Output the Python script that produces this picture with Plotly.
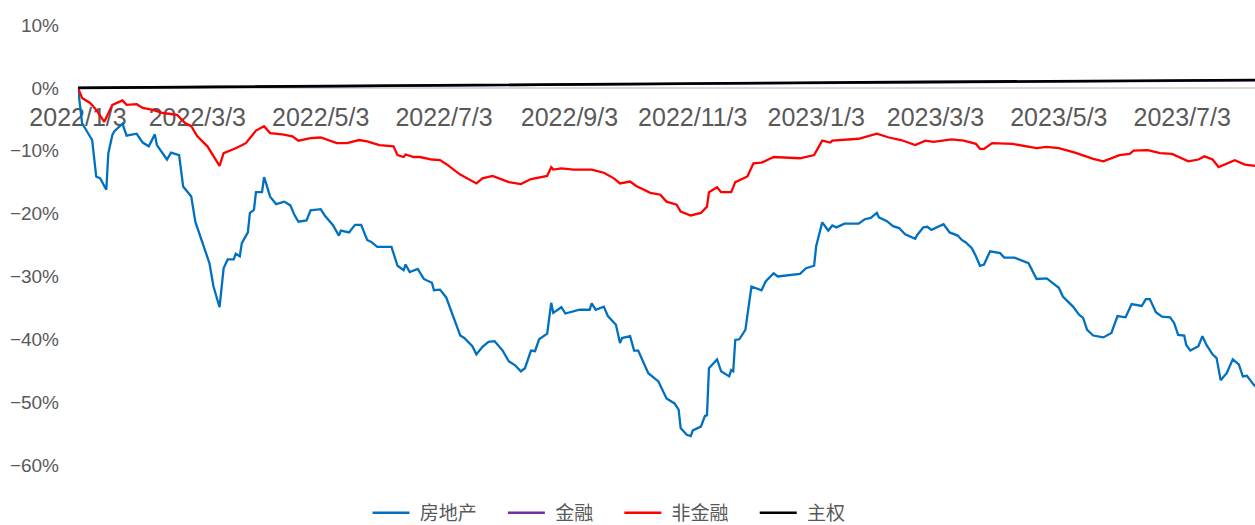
import pandas as pd
import plotly.graph_objects as go

START = pd.Timestamp("2022-01-03")

# 房地产 (real estate) — days since 2022-01-03, cumulative return %
fdc_day = [0, 2, 4, 7, 9, 11, 14, 15, 17, 18, 22, 24, 29, 32, 35, 38, 39, 41, 44, 46, 50, 52, 56, 58,
           62, 65, 67, 70, 72, 74, 77, 78, 80, 81, 84, 85, 87, 88, 91, 92, 93, 95, 98, 102, 105, 107,
           109, 113, 115, 120, 122, 126, 129, 130, 134, 137, 140, 143, 145, 148, 155, 158, 161, 162,
           164, 168, 171, 175, 176, 179, 182, 185, 189, 191, 195, 197, 200, 203, 206, 210, 213, 216,
           219, 221, 224, 226, 228, 232, 234, 235, 239, 241, 248, 253, 254, 256, 260, 262, 266, 268,
           269, 273, 275, 277, 282, 287, 291, 295, 297, 298, 301, 303, 304, 308, 310, 311, 312, 316,
           318, 322, 323, 324, 325, 327, 330, 333, 338, 340, 344, 346, 357, 360, 364, 365, 368, 371,
           373, 375, 379, 386, 389, 392, 395, 396, 400, 403, 406, 409, 414, 415, 418, 420, 422, 428,
           431, 435, 437, 439, 442, 444, 446, 448, 451, 456, 458, 463, 470, 474, 477, 479, 485, 487,
           492, 495, 497, 499, 502, 507, 511, 514, 518, 521, 526, 528, 530, 533, 536, 540, 542, 544,
           547, 548, 550, 554, 556, 558, 561, 563, 565, 568, 571, 574, 576, 578, 582]
fdc_val = [0.0, -5.6, -6.7, -8.3, -14.1, -14.4, -16.2, -10.4, -7.5, -6.9, -5.7, -7.6, -7.3, -8.7, -9.3,
           -7.4, -9.1, -10.1, -11.4, -10.3, -10.7, -15.7, -17.3, -21.3, -25.2, -27.9, -31.6, -34.9,
           -28.7, -27.3, -27.3, -26.4, -26.8, -24.7, -23.0, -19.9, -19.4, -16.6, -16.6, -14.2, -15.2,
           -17.3, -18.5, -18.1, -18.7, -20.2, -21.3, -21.1, -19.5, -19.3, -20.3, -21.8, -23.5, -22.7,
           -23.0, -21.8, -21.8, -24.2, -24.5, -25.3, -25.3, -28.3, -29.0, -28.1, -29.3, -28.8, -30.4,
           -31.0, -32.2, -32.1, -33.3, -35.8, -39.4, -39.8, -41.1, -42.4, -41.2, -40.4, -40.3, -41.8,
           -43.5, -44.1, -45.1, -44.6, -41.8, -41.9, -40.0, -39.1, -34.2, -35.8, -34.9, -35.9, -35.3,
           -35.3, -34.3, -35.3, -34.8, -36.3, -37.7, -40.6, -39.8, -39.5, -41.8, -41.8, -45.4, -46.7,
           -49.4, -50.2, -51.2, -54.1, -55.2, -55.4, -54.5, -53.9, -52.2, -52.1, -44.6, -43.2, -45.1,
           -45.9, -44.9, -45.1, -40.1, -40.0, -38.5, -31.6, -32.2, -30.8, -29.5, -30.0, -29.6, -28.7,
           -28.3, -25.2, -21.4, -22.7, -21.9, -22.2, -21.6, -21.6, -20.9, -20.7, -19.9, -20.6, -21.2,
           -22.0, -22.3, -23.3, -24.0, -23.4, -22.2, -22.1, -22.6, -21.7, -23.0, -23.5, -24.2, -24.6,
           -25.5, -26.8, -28.3, -28.1, -26.0, -26.3, -27.0, -27.0, -27.9, -30.4, -30.4, -30.3, -31.8,
           -33.2, -34.8, -36.1, -36.6, -38.5, -39.4, -39.7, -39.0, -36.3, -36.5, -34.4, -34.7, -33.6,
           -33.6, -35.7, -36.4, -36.5, -37.4, -39.3, -39.4, -40.9, -41.8, -41.1, -39.5, -40.9, -42.4,
           -43.0, -46.5, -45.4, -43.2, -44.0, -45.9, -45.8, -47.5]

# 非金融 (non-financial)
ffin_day = [0, 2, 6, 9, 13, 17, 22, 24, 29, 32, 37, 42, 49, 53, 56, 59, 64, 70, 72, 75, 78, 83, 86, 88,
            92, 95, 101, 106, 109, 115, 120, 128, 133, 139, 143, 149, 156, 158, 161, 162, 166, 169,
            175, 179, 182, 189, 197, 200, 205, 213, 219, 224, 232, 234, 235, 239, 245, 254, 260, 265,
            268, 273, 276, 283, 288, 291, 296, 298, 303, 308, 311, 312, 316, 318, 323, 325, 331, 334,
            338, 344, 357, 364, 368, 372, 373, 380, 386, 395, 401, 407, 414, 419, 423, 432, 438, 444,
            446, 448, 452, 462, 467, 474, 479, 485, 493, 502, 507, 515, 520, 522, 529, 535, 541, 549,
            554, 557, 561, 564, 572, 577, 582]
ffin_val = [0.0, -1.6, -2.4, -3.5, -5.4, -2.7, -2.0, -2.7, -2.6, -3.2, -3.5, -4.0, -4.3, -5.6, -6.1,
            -7.7, -9.3, -12.4, -10.4, -10.0, -9.6, -8.8, -7.5, -6.8, -6.1, -7.2, -7.4, -7.7, -8.4,
            -8.0, -7.9, -8.8, -8.8, -8.3, -8.5, -9.1, -9.3, -10.7, -11.0, -10.6, -11.0, -11.0, -11.4,
            -11.5, -12.1, -13.8, -15.2, -14.4, -14.0, -15.0, -15.3, -14.5, -14.0, -12.6, -13.0, -12.8,
            -13.0, -13.0, -13.5, -14.4, -15.2, -14.9, -15.6, -16.7, -17.0, -18.1, -18.6, -19.7, -20.3,
            -19.9, -18.9, -16.6, -15.8, -16.6, -16.6, -15.0, -14.1, -12.0, -11.9, -11.0, -11.2, -10.7,
            -8.4, -8.7, -8.4, -8.2, -8.1, -7.3, -7.9, -8.3, -9.1, -8.4, -8.6, -8.2, -8.4, -8.9, -9.7,
            -9.7, -8.8, -8.9, -9.2, -9.6, -9.4, -9.6, -10.3, -11.3, -11.7, -10.7, -10.5, -10.0, -9.9,
            -10.4, -10.5, -11.7, -11.4, -10.9, -11.4, -12.6, -11.5, -12.2, -12.4]

# 主权 (sovereign) and 金融 (financial)
zq_day = [0, 60, 120, 180, 240, 300, 360, 420, 480, 540, 582]
zq_val = [0.0, 0.15, 0.30, 0.40, 0.50, 0.65, 0.80, 0.95, 1.05, 1.15, 1.25]
jr_day = [0, 60, 120, 180, 240, 300, 360, 420, 480, 540, 582]
jr_val = [0.0, 0.12, 0.26, 0.36, 0.46, 0.60, 0.75, 0.90, 1.00, 1.10, 1.20]

x_tick_dates = ["2022-01-03", "2022-03-03", "2022-05-03", "2022-07-03", "2022-09-03", "2022-11-03",
                "2023-01-03", "2023-03-03", "2023-05-03", "2023-07-03"]
x_tick_text = ["2022/1/3", "2022/3/3", "2022/5/3", "2022/7/3", "2022/9/3", "2022/11/3",
               "2023/1/3", "2023/3/3", "2023/5/3", "2023/7/3"]
y_tick_vals = [10, 0, -10, -20, -30, -40, -50, -60]
y_tick_text = ["10%", "0%", "−10%", "−20%", "−30%", "−40%", "−50%", "−60%"]


def to_dates(days):
    return START + pd.to_timedelta(days, unit="D")


NB = "\u00a0"
series = [
    ("房地产", fdc_day, fdc_val, "#0070C0", 2.3),
    ("金融", jr_day, jr_val, "#7030A0", 2.3),
    ("非金融", ffin_day, ffin_val, "#FF0000", 2.3),
    ("主权", zq_day, zq_val, "#000000", 2.6),
]

fig = go.Figure()
for name, d, v, c, w in series:
    fig.add_trace(go.Scatter(x=to_dates(d), y=v, name=NB + name + NB * 4, mode="lines",
                             line=dict(color=c, width=w)))

y_min, y_max = -60, 10
zero_pos = (0 - y_min) / (y_max - y_min)

fig.update_layout(
    width=1255, height=525,
    margin=dict(l=78, r=0, t=25, b=60, autoexpand=False),
    paper_bgcolor="white", plot_bgcolor="white",
    font=dict(family="Liberation Sans, Noto Sans CJK SC", color="#595959"),
    showlegend=True,
    legend=dict(orientation="h", x=0.5 - 8 / 1255, xanchor="center", xref="container",
                y=0.023, yanchor="middle", yref="container",
                font=dict(size=19, family="Liberation Sans, Noto Sans CJK SC", color="#595959"),
                itemwidth=37, traceorder="normal"),
    xaxis=dict(type="date", range=[START, to_dates([582])[0]],
               anchor="free", position=zero_pos,
               tickvals=x_tick_dates, ticktext=x_tick_text,
               tickfont=dict(size=25, color="#595959"), ticklabelstandoff=7,
               showgrid=False, zeroline=False, showline=True, linecolor="#D9D9D9", linewidth=1.5,
               ticks="", layer="below traces"),
    yaxis=dict(range=[y_min, y_max], tickvals=y_tick_vals, ticktext=y_tick_text,
               tickfont=dict(size=19, color="#595959"), showgrid=False, zeroline=False,
               showline=False, ticks="", ticklabelstandoff=18),
)

fig.write_html("out.html", config={"displayModeBar": False},
               post_script="document.body.style.margin='0';")
